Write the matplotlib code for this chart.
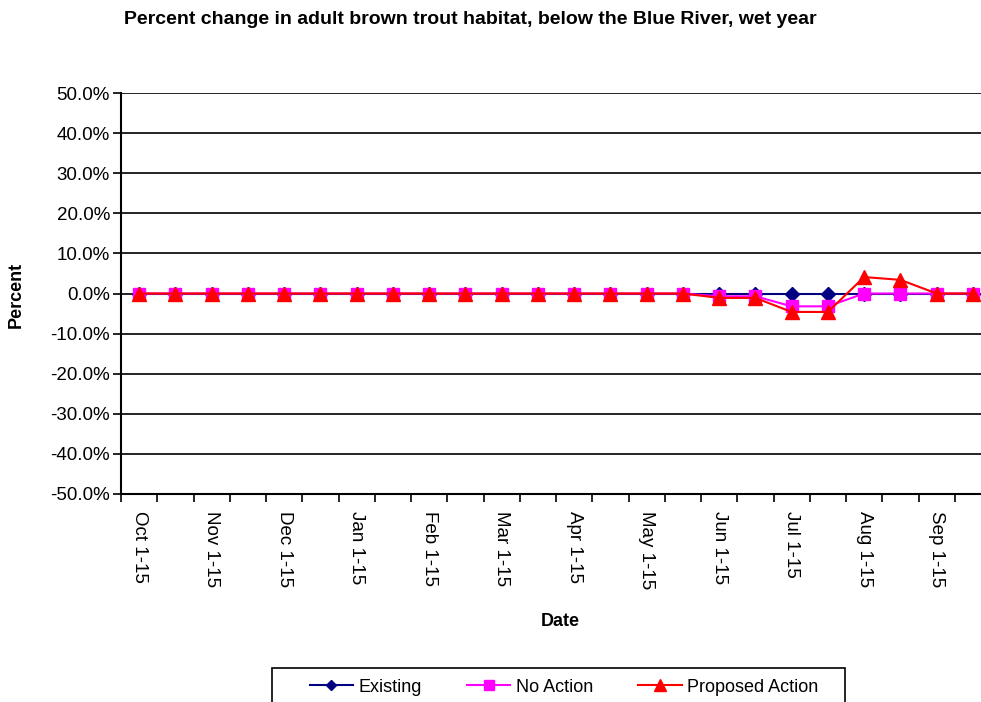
import matplotlib
matplotlib.use("Agg")
import matplotlib.pyplot as plt
from matplotlib.ticker import FuncFormatter, FixedLocator
from matplotlib.patches import Rectangle

plt.rcParams['font.family'] = ['Liberation Sans', 'DejaVu Sans']

categories = ["Oct 1-15", "Oct 16-31", "Nov 1-15", "Nov 16-30", "Dec 1-15", "Dec 16-31",
              "Jan 1-15", "Jan 16-31", "Feb 1-15", "Feb 16-28", "Mar 1-15", "Mar 16-31",
              "Apr 1-15", "Apr 16-30", "May 1-15", "May 16-31", "Jun 1-15", "Jun 16-30",
              "Jul 1-15", "Jul 16-31", "Aug 1-15", "Aug 16-31", "Sep 1-15", "Sep 16-30"]
existing = [0.0] * 24
no_action = [0.0] * 16 + [-0.007, -0.007, -0.032, -0.032, 0.0, 0.0, 0.0, 0.0]
proposed = [0.0] * 16 + [-0.011, -0.011, -0.046, -0.046, 0.041, 0.034, 0.0, 0.0]
tick_labels = [c if c.split()[1] == "1-15" else "" for c in categories]

W, H = 981, 702
fig = plt.figure(figsize=(W / 100, H / 100), dpi=100)
left, right, top, bottom = 121, 991, 93, 494
ax = fig.add_axes([left / W, 1 - bottom / H, (right - left) / W, (bottom - top) / H])

x = list(range(len(categories)))
ax.plot(x, existing, color="#000080", marker="D", markersize=7, lw=1.5, label="Existing", zorder=3)
ax.plot(x, no_action, color="#FF00FF", marker="s", markersize=9, lw=1.5, label="No Action", zorder=4)
ax.plot(x, proposed, color="#FF0000", marker="^", markersize=10, lw=1.5, label="Proposed Action", zorder=5)

ax.set_xlim(-0.5, len(categories) - 0.5)
ax.set_ylim(-0.5, 0.5)
ax.yaxis.set_major_locator(FixedLocator([i / 10 for i in range(-5, 6)]))
ax.yaxis.set_major_formatter(FuncFormatter(lambda v, p: f"{v*100:.1f}%"))
ax.grid(axis="y", color="black", lw=1.2)
ax.set_axisbelow(True)

ax.set_xticks(x)
ax.set_xticklabels(tick_labels, rotation=270, fontsize=13.5)
ax.tick_params(axis="x", length=0, pad=12)
ax.set_xticks([i - 0.5 for i in range(len(categories) + 1)], minor=True)
ax.tick_params(axis="x", which="minor", length=6, width=1.2, color="black")
ax.tick_params(axis="y", labelsize=13.5, length=6, width=1.2, pad=2)

for s in ["top", "right"]:
    ax.spines[s].set_visible(False)
ax.spines["left"].set_linewidth(1.5)
ax.spines["bottom"].set_linewidth(1.5)

fig.text(470 / W, 1 - 19 / H, "Percent change in adult brown trout habitat, below the Blue River, wet year",
         ha="center", va="center", fontsize=14, fontweight="bold")
fig.text(16 / W, 1 - 295 / H, "Percent", rotation=90, ha="center", va="center", fontsize=13, fontweight="bold")
fig.text(560 / W, 1 - 622 / H, "Date", ha="center", va="center", fontsize=13, fontweight="bold")

fig.patches.append(Rectangle((272 / W, 1 - 712 / H), (845 - 272) / W, (712 - 668) / H,
                             transform=fig.transFigure, fill=False, edgecolor="black", lw=1.2))
leg = fig.legend(loc="center", bbox_to_anchor=(564 / W, 1 - 687 / H), ncol=3, frameon=False,
                 fontsize=13, borderpad=0, handlelength=2.4, handletextpad=0.3,
                 columnspacing=2.5, markerscale=0.8)

fig.savefig("out.png", dpi=100)
